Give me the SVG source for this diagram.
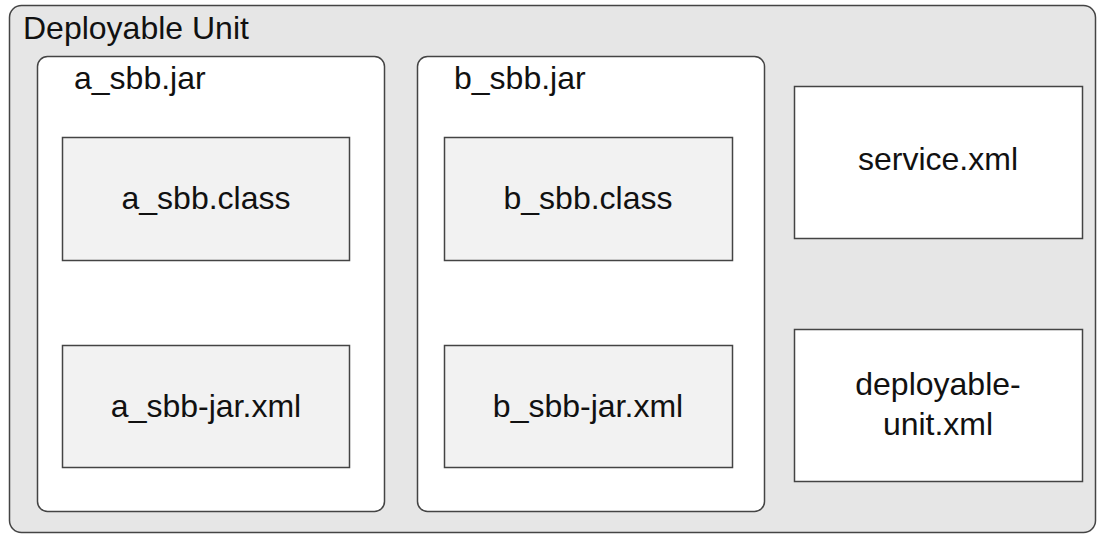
<svg xmlns="http://www.w3.org/2000/svg" width="1105" height="536" viewBox="0 0 1105 536">
<style>
.t{font-family:"Liberation Sans",Arial,sans-serif;font-size:32px;fill:#111}
.c{text-anchor:middle}
.box{stroke:#444;stroke-width:1.5}
</style>
<rect width="1105" height="536" fill="#fff"/>
<g id="deployable-unit">
<rect class="box" x="9.5" y="5.5" width="1086" height="527" rx="12" fill="#e6e6e6"/>
<text class="t" x="23" y="39">Deployable Unit</text>
</g>
<g id="a_sbb_jar">
<rect class="box" x="37.5" y="56.5" width="347" height="455" rx="10" fill="#fff"/>
<text class="t" x="74" y="89">a_sbb.jar</text>
</g>
<g id="b_sbb_jar">
<rect class="box" x="417.5" y="56.5" width="347" height="455" rx="10" fill="#fff"/>
<text class="t" x="454" y="89">b_sbb.jar</text>
</g>
<g id="a_sbb_class">
<rect class="box" x="62.5" y="137.5" width="287" height="123" fill="#f2f2f2"/>
<text class="t c" x="206" y="209">a_sbb.class</text>
</g>
<g id="a_sbb_jar_xml">
<rect class="box" x="62.5" y="345.5" width="287" height="122" fill="#f2f2f2"/>
<text class="t c" x="206" y="417">a_sbb-jar.xml</text>
</g>
<g id="b_sbb_class">
<rect class="box" x="444.5" y="137.5" width="288" height="123" fill="#f2f2f2"/>
<text class="t c" x="588" y="209">b_sbb.class</text>
</g>
<g id="b_sbb_jar_xml">
<rect class="box" x="444.5" y="345.5" width="288" height="122" fill="#f2f2f2"/>
<text class="t c" x="588" y="417">b_sbb-jar.xml</text>
</g>
<g id="service_xml">
<rect class="box" x="794.5" y="86.5" width="288" height="152" fill="#fff"/>
<text class="t c" x="938" y="170">service.xml</text>
</g>
<g id="deployable_unit_xml">
<rect class="box" x="794.5" y="329.5" width="288" height="152" fill="#fff"/>
<text class="t c" x="938" y="395">deployable-</text>
<text class="t c" x="938" y="435">unit.xml</text>
</g>
<g id="connectors"></g>
</svg>
